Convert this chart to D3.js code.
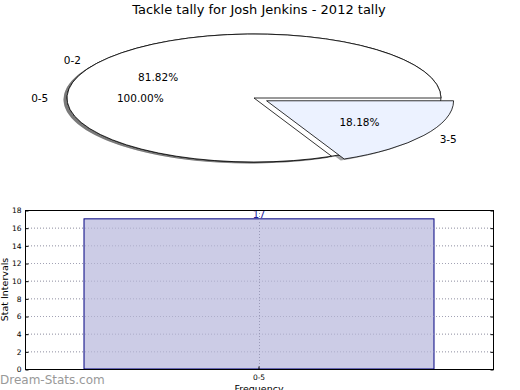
<!DOCTYPE html>
<html>
<head>
<meta charset="utf-8">
<title>Tackle tally</title>
<script src="https://cdn.jsdelivr.net/npm/d3@7"></script>
<style>
  body { margin: 0; background: #fff; }
  text { font-family: "DejaVu Sans", sans-serif; }
</style>
</head>
<body>
<script>
// data
var outerLabels = ["0-5"];
var outerValues = [11];
var innerLabels = ["0-2", "3-5"];
var innerValues = [9, 2];
var innerExplode = [0, 0.08];
var barCategories = ["0-5"];
var barValues = [17];
var yTicks = [0, 2, 4, 6, 8, 10, 12, 14, 16, 18];

var W = 520, H = 390;
var svg = d3.select("body").append("svg")
    .attr("width", W)
    .attr("height", H);

svg.append("text")
    .attr("x", 259).attr("y", 14)
    .attr("text-anchor", "middle")
    .style("font-size", "13px")
    .text("Tackle tally for Josh Jenkins - 2012 tally");

// pie: ellipse (squashed axes), starts at 3 o'clock, counter clockwise like matplotlib
var cx = 254, cy = 98, rx = 187, ry = 64;

var pie = d3.pie().sort(null)
    .startAngle(Math.PI / 2)
    .endAngle(Math.PI / 2 - 2 * Math.PI);
var arc = d3.arc().innerRadius(0).outerRadius(1);

function pctText(d, total) {
  return (100 * d.value / total).toFixed(2) + "%";
}

function drawPie(values, labels, explode, colors) {
  var total = d3.sum(values);
  var arcs = pie(values);
  arcs.forEach(function(d, i) {
    var mid = (d.startAngle + d.endAngle) / 2;
    d.ux = Math.sin(mid);
    d.uy = -Math.cos(mid);
    d.ox = explode[i] * d.ux * rx;
    d.oy = explode[i] * d.uy * ry;
    d.label = labels[i];
    d.pct = pctText(d, total);
    d.color = colors[i];
  });
  return arcs;
}

var outerArcs = drawPie(outerValues, outerLabels, [0], ["#ffffff"]);
var innerArcs = drawPie(innerValues, innerLabels, innerExplode, ["#ffffff", "#ecf2ff"]);
var allArcs = outerArcs.concat(innerArcs);

var pieG = svg.append("g");

// shadows
pieG.selectAll("path.shadow").data(allArcs).enter().append("path")
    .attr("class", "shadow")
    .attr("d", arc)
    .attr("transform", function(d) {
      return "translate(" + (cx + d.ox - 3.5) + "," + (cy + d.oy + 1.5) + ") scale(" + rx + "," + ry + ")";
    })
    .attr("fill", function(d) {
      var c = d3.rgb(d.color);
      return d3.rgb(c.r * 0.3, c.g * 0.3, c.b * 0.3);
    })
    .attr("fill-opacity", 0.5);

// wedges
pieG.selectAll("path.wedge").data(allArcs).enter().append("path")
    .attr("class", "wedge")
    .attr("d", function(d) {
      if (d.endAngle - d.startAngle <= -2 * Math.PI + 1e-6) {
        return "M1,0A1,1 0 1,1 -1,0A1,1 0 1,1 1,0Z";
      }
      return arc(d);
    })
    .attr("transform", function(d) {
      return "translate(" + (cx + d.ox) + "," + (cy + d.oy) + ") scale(" + rx + "," + ry + ")";
    })
    .attr("fill", function(d) { return d.color; })
    .attr("stroke", "#000")
    .attr("stroke-width", 0.8)
    .attr("vector-effect", "non-scaling-stroke");

// labels
pieG.selectAll("text.lab").data(allArcs).enter().append("text")
    .attr("class", "lab")
    .attr("x", function(d) { return cx + d.ox + 1.1 * d.ux * rx; })
    .attr("y", function(d) { return cy + d.oy + 1.1 * d.uy * ry + 4; })
    .attr("text-anchor", function(d) { return d.ux < 0 ? "end" : "start"; })
    .style("font-size", "10.5px")
    .text(function(d) { return d.label; });

pieG.selectAll("text.pct").data(allArcs).enter().append("text")
    .attr("class", "pct")
    .attr("x", function(d) { return cx + d.ox + 0.6 * d.ux * rx - 1.5; })
    .attr("y", function(d) { return cy + d.oy + 0.6 * d.uy * ry + 4; })
    .attr("text-anchor", "middle")
    .style("font-size", "10.5px")
    .text(function(d) { return d.pct; });

// bar chart
var bx0 = 25, bx1 = 493, by0 = 210, by1 = 369;

var x = d3.scaleBand().domain(barCategories).range([bx0, bx1])
    .paddingInner(0).paddingOuter(0.1686);
var y = d3.scaleLinear().domain([0, 18]).range([by1, by0]);

var barG = svg.append("g");

// grid
barG.selectAll("line.hgrid").data(yTicks.slice(1, -1)).enter().append("line")
    .attr("x1", bx0).attr("x2", bx1)
    .attr("y1", function(d) { return y(d) + 0.5; })
    .attr("y2", function(d) { return y(d) + 0.5; })
    .attr("stroke", "#b0b0b0")
    .attr("stroke-dasharray", "1,2");

barG.selectAll("rect.bar").data(barValues).enter().append("rect")
    .attr("class", "bar")
    .attr("x", function(d, i) { return x(barCategories[i]); })
    .attr("width", x.bandwidth())
    .attr("y", function(d) { return y(d); })
    .attr("height", function(d) { return y(0) - y(d); })
    .attr("fill", "#cccce6")
    .attr("stroke", "#000080")
    .attr("stroke-width", 1);

barG.selectAll("line.hgrid2").data(yTicks.slice(1, -1)).enter().append("line")
    .attr("x1", bx0).attr("x2", bx1)
    .attr("y1", function(d) { return y(d) + 0.5; })
    .attr("y2", function(d) { return y(d) + 0.5; })
    .attr("stroke", "#9a9ab8")
    .attr("stroke-opacity", 0.6)
    .attr("stroke-dasharray", "1,2");

barG.selectAll("line.vgrid").data(barCategories).enter().append("line")
    .attr("x1", function(d) { return x(d) + x.bandwidth() / 2 + 0.5; })
    .attr("x2", function(d) { return x(d) + x.bandwidth() / 2 + 0.5; })
    .attr("y1", by0).attr("y2", by1)
    .attr("stroke", "#9a9ab8")
    .attr("stroke-dasharray", "1,2");

barG.selectAll("text.val").data(barValues).enter().append("text")
    .attr("x", function(d, i) { return x(barCategories[i]) + x.bandwidth() / 2; })
    .attr("y", function(d) { return y(d) - 0.5; })
    .attr("text-anchor", "middle")
    .attr("fill", "#1c1c9c")
    .style("font-size", "10px")
    .text(function(d) { return d; });

// frame
barG.append("rect")
    .attr("x", bx0 + 0.5).attr("y", by0 + 0.5)
    .attr("width", bx1 - bx0).attr("height", by1 - by0)
    .attr("fill", "none")
    .attr("stroke", "#000")
    .attr("stroke-width", 1);

// axes
var yAxisL = d3.axisLeft(y).tickValues(yTicks).tickSize(-3).tickPadding(4);
var yAxisR = d3.axisRight(y).tickValues(yTicks).tickSize(-3).tickFormat("");
var xAxis = d3.axisBottom(x).tickSize(-3).tickPadding(5);

var gl = barG.append("g").attr("transform", "translate(" + (bx0 + 0.5) + ",0.5)").call(yAxisL);
var gr = barG.append("g").attr("transform", "translate(" + (bx1 + 0.5) + ",0.5)").call(yAxisR);
var gx = barG.append("g").attr("transform", "translate(0," + (by1 + 0.5) + ")").call(xAxis);
[gl, gr, gx].forEach(function(g) {
  g.select(".domain").remove();
  g.selectAll(".tick line").attr("stroke", "#000");
  g.selectAll(".tick text").style("font-size", "7.5px").style("font-family", "DejaVu Sans, sans-serif").attr("fill", "#000");
});

svg.append("text")
    .attr("transform", "translate(8," + ((by0 + by1) / 2) + ") rotate(-90)")
    .attr("text-anchor", "middle")
    .style("font-size", "9.5px")
    .text("Stat Intervals");

svg.append("text")
    .attr("x", 259).attr("y", 392)
    .attr("text-anchor", "middle")
    .style("font-size", "9.5px")
    .text("Frequency");

svg.append("text")
    .attr("x", 0).attr("y", 384)
    .attr("fill", "#999999")
    .style("font-size", "12px")
    .text("Dream-Stats.com");
</script>
</body>
</html>
